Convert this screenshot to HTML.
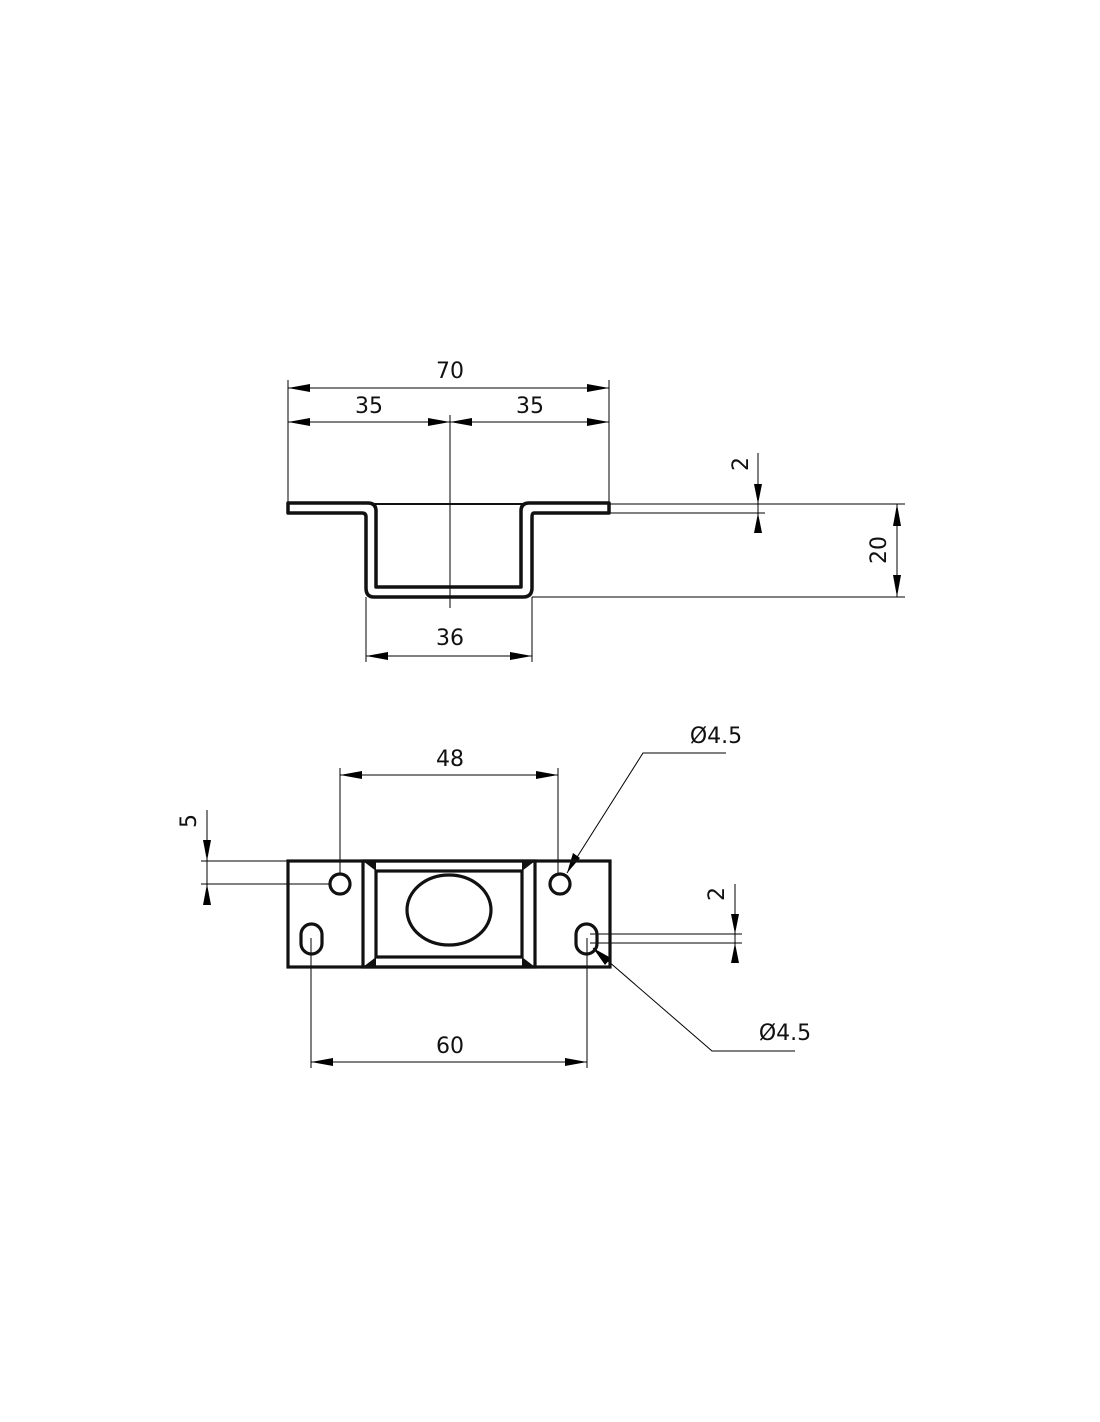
<!DOCTYPE html>
<html><head><meta charset="utf-8"><style>
html,body{margin:0;padding:0;background:#fff}
svg{display:block}
text{font-family:"DejaVu Sans","Liberation Sans",sans-serif;font-size:22px;fill:#111}
</style></head><body>
<svg width="1100" height="1422" viewBox="0 0 1100 1422" xmlns="http://www.w3.org/2000/svg">
<g stroke="#000" fill="none" stroke-width="1">
<line x1="288" y1="380" x2="288" y2="503"/>
<line x1="609" y1="380" x2="609" y2="503"/>
<line x1="450" y1="415" x2="450" y2="608"/>
<line x1="366" y1="597" x2="366" y2="662"/>
<line x1="532" y1="597" x2="532" y2="662"/>
<line x1="609" y1="504" x2="905" y2="504"/>
<line x1="609" y1="513" x2="765" y2="513"/>
<line x1="532" y1="597" x2="905" y2="597"/>
<line x1="288" y1="388" x2="609" y2="388"/>
<line x1="288" y1="422" x2="450" y2="422"/>
<line x1="450" y1="422" x2="609" y2="422"/>
<line x1="366" y1="656" x2="532" y2="656"/>
<line x1="758" y1="453" x2="758" y2="533"/>
<line x1="897" y1="504" x2="897" y2="597"/>
</g>
<g fill="#000">
<path d="M288,388 L310,384 L310,392Z"/><path d="M609,388 L587,384 L587,392Z"/>
<path d="M288,422 L310,418 L310,426Z"/><path d="M450,422 L428,418 L428,426Z"/>
<path d="M450,422 L472,418 L472,426Z"/><path d="M609,422 L587,418 L587,426Z"/>
<path d="M366,656 L388,652 L388,660Z"/><path d="M532,656 L510,652 L510,660Z"/>
<path d="M758,504 L754,484 L762,484Z"/><path d="M758,513 L754,533 L762,533Z"/>
<path d="M897,504 L893,526 L901,526Z"/><path d="M897,597 L893,575 L901,575Z"/>
</g>
<path d="M288,503 L368,503 Q376,503 376,511 L376,587 L521,587 L521,511 Q521,503 529,503 L609,503 L609,513 L534,513 Q532,513 532,517 L532,588 Q532,597 523,597 L374,597 Q366,597 366,588 L366,517 Q366,513 362,513 L288,513 Z" fill="none" stroke="#111" stroke-width="3.5" stroke-linejoin="round"/>
<line x1="372" y1="504" x2="526" y2="504" stroke="#111" stroke-width="2"/>
<text x="450" y="378" text-anchor="middle">70</text>
<text x="369" y="413" text-anchor="middle">35</text>
<text x="530" y="413" text-anchor="middle">35</text>
<text x="450" y="645" text-anchor="middle">36</text>
<text x="0" y="0" text-anchor="middle" transform="translate(748,464) rotate(-90)">2</text>
<text x="0" y="0" text-anchor="middle" transform="translate(886,550) rotate(-90)">20</text>

<g stroke="#000" fill="none" stroke-width="1">
<line x1="340" y1="768" x2="340" y2="873"/>
<line x1="558" y1="768" x2="558" y2="873"/>
<line x1="340" y1="775" x2="558" y2="775"/>
<line x1="201" y1="861" x2="288" y2="861"/>
<line x1="201" y1="884" x2="330" y2="884"/>
<line x1="207" y1="810" x2="207" y2="905"/>
<line x1="311" y1="938" x2="311" y2="1068"/>
<line x1="587" y1="938" x2="587" y2="1068"/>
<line x1="311" y1="1062" x2="587" y2="1062"/>
<line x1="590" y1="934" x2="742" y2="934"/>
<line x1="590" y1="943" x2="742" y2="943"/>
<line x1="735" y1="884" x2="735" y2="962"/>
<polyline points="567,873 643,753 726,753"/>
<polyline points="593,948 712,1051 795,1051"/>
</g>
<g fill="#000">
<path d="M340,775 L362,771 L362,779Z"/><path d="M558,775 L536,771 L536,779Z"/>
<path d="M311,1062 L333,1058 L333,1066Z"/><path d="M587,1062 L565,1058 L565,1066Z"/>
<path d="M207,861 L203,840 L211,840Z"/><path d="M207,884 L203,905 L211,905Z"/>
<path d="M735,934 L731,914 L739,914Z"/><path d="M735,943 L731,963 L739,963Z"/>
<path d="M567,873 L573,853 L580,858Z"/>
<path d="M593,948 L611,958 L605,965Z"/>
</g>
<g stroke="#111" fill="none" stroke-width="3.2">
<rect x="288" y="861" width="322" height="106"/>
<rect x="363" y="861" width="172" height="106"/>
<rect x="376" y="871" width="146" height="86"/>
<circle cx="340" cy="884" r="10"/>
<circle cx="560" cy="884" r="10"/>
<rect x="301" y="924" width="21" height="30" rx="10.5"/>
<rect x="576" y="924" width="21" height="30" rx="10.5"/>
<ellipse cx="449" cy="910" rx="42" ry="35"/>
</g>
<g fill="#111">
<path d="M363,861 L376,861 L376,871 Z"/><path d="M535,861 L522,861 L522,871Z"/>
<path d="M363,967 L376,967 L376,957Z"/><path d="M535,967 L522,967 L522,957Z"/>
</g>
<text x="450" y="766" text-anchor="middle">48</text>
<text x="450" y="1053" text-anchor="middle">60</text>
<text x="0" y="0" text-anchor="middle" transform="translate(196,821) rotate(-90)">5</text>
<text x="0" y="0" text-anchor="middle" transform="translate(724,894) rotate(-90)">2</text>
<text x="716" y="743" text-anchor="middle">Ø4.5</text>
<text x="785" y="1040" text-anchor="middle">Ø4.5</text>
</svg>
</body></html>
